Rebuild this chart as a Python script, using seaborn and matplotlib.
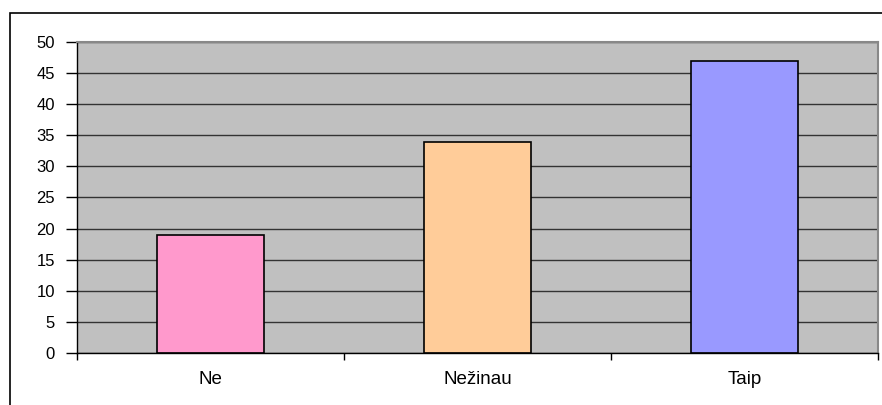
import seaborn as sns
import matplotlib.pyplot as plt
from matplotlib.patches import Rectangle
from matplotlib.ticker import FixedLocator

categories = ["Ne", "Nežinau", "Taip"]
values = [19, 34, 47]
colors = ["#FF99CC", "#FFCC99", "#9999FF"]

sns.set_style("white")
plt.rcParams['font.family'] = ['Liberation Sans', 'DejaVu Sans']

fig = plt.figure(figsize=(8.82, 4.05), dpi=100)
ax = fig.add_axes([77 / 882, 52 / 405, 801 / 882, 311 / 405])

# outer chart border (runs off the right and bottom edges)
fig.patches.append(Rectangle((10 / 882, -0.05), 1.0, (405 - 13) / 405 + 0.05,
                             transform=fig.transFigure, fill=False,
                             edgecolor="black", linewidth=1.2))

sns.barplot(x=categories, y=values, hue=categories, palette=colors,
            saturation=1, width=0.4, edgecolor="black", linewidth=1.2,
            legend=False, ax=ax)

ax.set_facecolor("#C0C0C0")
ax.set_ylim(0, 50)
ax.set_xlim(-0.5, 2.5)
ax.set_yticks(range(0, 51, 5))
ax.yaxis.grid(True, color="#333333", linewidth=1)
ax.set_axisbelow(True)

for side in ["top", "right"]:
    ax.spines[side].set_color("#888888")
    ax.spines[side].set_linewidth(1.5)
for side in ["left", "bottom"]:
    ax.spines[side].set_color("black")
    ax.spines[side].set_linewidth(1)

ax.tick_params(axis="y", direction="out", length=8, width=1, color="black",
               labelsize=12, labelcolor="black", pad=8, left=True)
ax.tick_params(axis="x", which="major", length=0, labelsize=13.5,
               labelcolor="black", pad=13)
ax.xaxis.set_minor_locator(FixedLocator([-0.5, 0.5, 1.5, 2.5]))
ax.tick_params(axis="x", which="minor", direction="out", length=5, width=1,
               color="black", bottom=True)
ax.set_xlabel("")
ax.set_ylabel("")

fig.savefig("out.png", dpi=100)
